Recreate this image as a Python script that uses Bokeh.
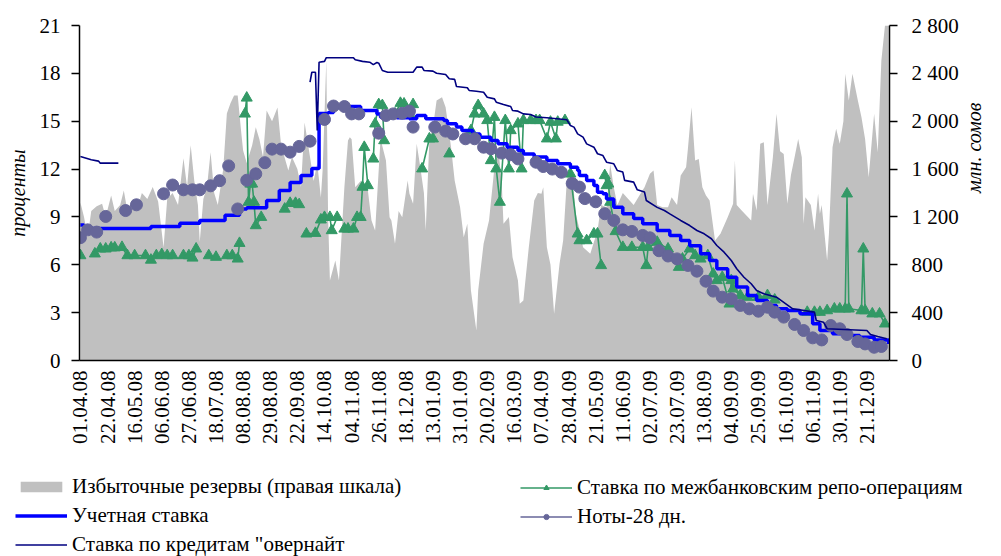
import math
from bokeh.plotting import figure
from bokeh.layouts import column
from bokeh.models import Range1d, LinearAxis, FixedTicker, Legend, LegendItem
from bokeh.embed import file_html
from bokeh.resources import INLINE

nan = float("nan")

# ---- category axis: business days, a label every 15 days ----
date_labels = ["01.04.08", "22.04.08", "16.05.08", "06.06.08", "27.06.08", "18.07.08",
               "08.08.08", "29.08.08", "22.09.08", "14.10.08", "04.11.08", "26.11.08",
               "18.12.08", "13.01.09", "31.01.09", "20.02.09", "16.03.09", "07.04.09",
               "28.04.09", "21.05.09", "11.06.09", "02.07.09", "23.07.09", "13.08.09",
               "04.09.09", "25.09.09", "16.10.09", "06.11.09", "30.11.09", "21.12.09"]
n_days = 448
label_step = 15

# ---- excess reserves (right axis, mln som) ----
reserves_day = [0, 2, 4, 6, 9, 12, 14, 17, 19, 22, 24, 26, 29, 32, 34, 37, 40, 43, 46, 48,
                51, 54, 57, 59, 61, 63, 65, 66, 68, 70, 72, 74, 76, 79, 81, 83, 85, 87, 89, 90,
                92, 95, 97, 99, 101, 103, 106, 109, 111, 115, 117, 120, 122, 124, 127, 129, 131, 133, 134, 136,
                137, 138, 141, 143, 146, 148, 149, 150, 152, 155, 159, 161, 163, 166, 169, 171, 172, 174, 176, 178,
                181, 182, 184, 186, 188, 190, 191, 193, 195, 197, 200, 202, 205, 207, 210, 212, 214, 216, 219, 220,
                223, 226, 229, 231, 233, 234, 237, 239, 242, 243, 245, 248, 251, 253, 255, 256, 258, 260, 262, 265,
                267, 269, 271, 273, 274, 276, 278, 282, 286, 288, 291, 293, 295, 297, 300, 303, 306, 310, 312, 315,
                317, 319, 322, 325, 327, 330, 332, 335, 336, 338, 340, 342, 344, 346, 348, 351, 354, 358, 361, 362,
                363, 366, 371, 372, 374, 376, 378, 380, 383, 385, 387, 389, 391, 393, 395, 397, 399, 400, 401, 404,
                406, 408, 409, 410, 413, 414, 416, 418, 420, 422, 423, 425, 427, 430, 432, 434, 436, 439, 441, 443,
                445, 447]
reserves_val = [1320, 1200, 1030, 1250, 1290, 1310, 1200, 1380, 1250, 1300, 1420, 1250, 1350, 1300, 1400, 1350, 1450, 1330, 944, 1350,
                1400, 1300, 1690, 1450, 1800, 1500, 1300, 990, 1350, 1450, 1740, 1400, 1300, 1600, 2064, 2150, 2214, 2214, 1900, 1755,
                1650, 1800, 1950, 1850, 1700, 2090, 2000, 2115, 1800, 1588, 1700, 1600, 1450, 1990, 1700, 1500, 1650, 1363, 1600, 2507,
                1200, 669, 836, 669, 1448, 1839, 1866, 1850, 1448, 1500, 1421, 1170, 1086, 1852, 1671, 1198, 1170, 975, 1250, 1198,
                1504, 1393, 1310, 1811, 1616, 1400, 1086, 1839, 1950, 2173, 2201, 2117, 1783, 1504, 1281, 1031, 1142, 585, 251, 585,
                975, 1170, 1616, 1783, 1500, 1142, 1200, 863, 669, 474, 501, 947, 1337, 1400, 1393, 1448, 947, 800, 390, 808,
                1003, 1500, 1671, 1400, 1226, 1100, 947, 892, 1086, 1300, 1281, 1643, 1448, 1300, 1400, 1350, 1300, 1400, 1448, 1560,
                1588, 1300, 1280, 1281, 1365, 1300, 1546, 1616, 1769, 2117, 1671, 1685, 1448, 1380, 1337, 1003, 1059, 1198, 1310, 1671,
                1300, 1250, 1170, 1393, 1254, 1811, 1825, 1300, 1699, 2062, 1750, 1727, 1310, 1550, 1699, 1852, 1699, 1142, 1365, 1300,
                1086, 1393, 1226, 1300, 836, 1059, 1783, 1936, 1811, 2000, 2396, 2173, 2396, 2173, 2034, 1852, 1532, 2062, 1741, 2507,
                2800, 2800]

# ---- interbank repo rate, % (nan = no trades) ----
repo_day = [0, nan, 8, 11, 14, 17, 19, 23, 26, 30, 36, 39, 42, 45, 48, 51, nan, 57, 60, 62, 64, nan,
            71, 75, nan, 81, 84, 87, 88, nan, 91, 92, 93, 94, 95, 96, 97, 100, nan,
            113, 116, 119, 121, nan, 125, 130, 133, 135, 138, 139, 142, nan,
            146, 148, 151, 153, 155, 156, 157, 159, nan, 162, 163, 165, 167, 168, nan,
            174, 177, 179, 182, 184, nan, 189, 193, 195, nan, 204, nan,
            216, 218, 220, 223, 225, 227, 229, 230, 232, 235, 237, 238, 242, 244, 245, 249, 252, 254,
            258, 260, 263, 264, 268, nan, 271, 275, 276, 280, 284, 286, 288, nan,
            290, 291, 292, 293, 296, 300, 305, 311, 313, 314, 319, 325, 331, 333, 337, 340, 343, 347,
            350, 352, 355, 359, 360, 361, 365, 369, 375, 380, 384, nan,
            402, 406, 409, 413, 417, 420, 423, 424, 425, 432, 433, 434, 438, 442, 445]
repo_val = [6.58, nan, 6.69, 7.0, 7.0, 7.07, 7.07, 7.1, 6.58, 6.58, 6.58, 6.3, 6.58, 6.65, 6.58, 6.58, nan, 6.58, 6.58, 6.43, 7.0, nan,
            6.58, 6.48, nan, 6.58, 6.58, 6.37, 7.35, nan, 15.46, 16.46, 9.93, 11.07, 11.07, 9.93, 8.46, 8.98, nan,
            9.5, 9.86, 9.86, 9.78, nan, 7.94, 7.98, 8.82, 8.98, 8.98, 8.15, 8.98, nan,
            8.25, 8.25, 8.25, 8.98, 8.98, 10.87, 13.37, 10.97, nan, 12.64, 14.84, 16.05, 15.99, 13.79, nan,
            15.46, 16.13, 16.09, 15.46, 16.05, nan, 12.02, 13.9, 13.9, nan, 12.96, nan,
            14.42, 15.46, 15.99, 15.46, 15.05, 12.54, 15.25, 12.02, 9.93, 15.05, 12.02, 14.42, 14.84, 12.02, 15.05, 15.05, 15.05, 15.05,
            13.9, 14.95, 13.9, 14.95, 15.05, nan, 11.7, 7.94, 7.52, 7.52, 7.94, 7.94, 5.96, nan,
            11.6, 10.97, 11.07, 9.93, 8.09, 7.1, 7.1, 7.1, 5.96, 7.1, 7.42, 7.0, 5.85, 6.37, 7.0, 6.58, 6.37, 6.58,
            5.43, 5.02, 5.22, 3.55, 5.02, 4.49, 4.08, 3.97, 3.97, 4.08, 3.8, nan,
            3.03, 3.03, 3.03, 3.13, 3.24, 3.24, 3.24, 10.45, 3.24, 3.13, 7.0, 3.13, 2.93, 2.93, 2.3]

# ---- discount rate, % ----
discount_day = [0, 2, 30, 39, 55, 66, 80, 88, 92, 98, 103, 110, 116, 122, 128, 131, 132, 137, 140, 149,
                155, 164, 166, 175, 182, 186, 189, 191, 201, 203, 208, 211, 217, 221, 227, 231, 236, 242, 245, 251,
                258, 264, 271, 275, 276, 280, 284, 286, 289, 291, 295, 300, 306, 311, 319, 326, 332, 337, 343, 348,
                352, 358, 363, 369, 374, 380, 385, 391, 398, 405, 409, 416, 424, 431, 439, 447]
discount_val = [8.5, 8.27, 8.27, 8.4, 8.6, 8.78, 9.1, 9.5, 9.57, 9.57, 10.03, 10.66, 11.16, 11.6, 12.04, 12.04, 15.49, 15.55, 15.86, 15.92,
                15.67, 15.46, 15.25, 15.22, 15.15, 15.36, 15.36, 15.15, 15.05, 14.84, 14.63, 14.42, 14.2, 14.0, 13.79, 13.58, 13.37, 13.17, 12.95, 12.75,
                12.54, 12.33, 12.12, 11.91, 11.6, 11.29, 10.97, 10.55, 10.45, 10.13, 9.6, 9.2, 8.9, 8.58, 8.15, 7.84, 7.52, 7.2, 6.69, 6.27,
                5.75, 5.22, 4.6, 4.08, 3.76, 3.45, 3.24, 3.13, 2.93, 2.3, 1.88, 1.67, 1.57, 1.46, 1.29, 1.04]

# ---- 28-day notes yield, % ----
notes_day = [0, 4, 9, 14, 25, 31, 46, 51, 57, 62, 66, 72, 77, 82, 87, 92, 97, 102, 106, 111,
             116, 121, 127, 135, 140, 146, 150, 154, 165, 169, 173, 178, 182, 184, 196, 202, 206, 213, 218, 223,
             227, 233, 238, 242, 252, 256, 261, 266, 272, 276, 279, 285, 290, 295, 300, 305, 311, 315, 320, 325,
             330, 336, 341, 346, 350, 355, 360, 365, 370, 375, 380, 384, 389, 395, 400, 405, 410, 415, 420, 424,
             430, 434, 439, 443]
notes_val = [7.7, 8.19, 8.05, 9.03, 9.4, 9.76, 10.45, 11.0, 10.7, 10.7, 10.7, 10.95, 11.27, 12.2, 9.5, 11.3, 11.7, 12.4, 13.25, 13.25,
             13.06, 13.42, 13.75, 15.11, 15.95, 15.92, 15.46, 15.46, 14.25, 15.36, 15.46, 15.5, 15.63, 14.63, 14.63, 14.38, 14.2, 13.9, 13.9, 13.37,
             13.27, 13.0, 12.9, 12.64, 12.43, 12.16, 12.0, 11.8, 11.1, 10.87, 10.15, 9.95, 9.2, 8.78, 8.19, 8.09, 7.84, 7.69, 6.88, 6.55,
             6.37, 5.96, 5.6, 4.97, 4.35, 3.97, 3.87, 3.45, 3.24, 3.09, 3.34, 3.03, 2.72, 2.26, 1.88, 1.42, 1.29, 2.19, 1.99, 1.63,
             1.19, 1.04, 0.83, 0.88]

# ---- overnight credit rate, % ----
overnight_day = [0, 6, 10, 11, 21, nan,
                 127, 128, 130, 131, 132, 135, 136, 151, 152, 156, 160, 162, 164, 165, 167, 170, 184, 186, 189, 190,
                 195, 197, 202, 204, 207, 208, 214, 215, 219, 223, 225, 229, 230, 234, 238, 239, 242, 245, 249, 252,
                 258, 269, 271, 273, 275, 278, 280, 284, 286, 289, 291, 295, 297, 300, 301, 306, 308, 312, 313, 319,
                 323, 326, 332, 337, 341, 345, 349, 352, 356, 360, 363, 367, 371, 374, 378, 385, 394, 406, 407, 411,
                 413, 435, 437, 441, 446]
overnight_val = [12.79, 12.58, 12.5, 12.37, 12.37, nan,
                 17.45, 18.07, 18.07, 14.42, 18.7, 18.75, 18.98, 18.98, 18.85, 18.75, 18.7, 18.55, 18.68, 18.64, 18.18, 18.07, 18.07, 18.39, 18.39, 18.18,
                 18.14, 18.01, 17.93, 17.66, 17.62, 17.18, 17.1, 16.93, 16.88, 16.82, 16.5, 16.4, 16.19, 16.05, 15.92, 15.67, 15.63, 15.46, 15.42, 15.26,
                 15.22, 15.09, 14.73, 14.63, 14.21, 14.0, 13.58, 13.37, 12.96, 12.85, 12.43, 12.33, 11.91, 11.81, 11.29, 11.18, 10.7, 10.56, 10.03, 9.6,
                 9.4, 9.19, 8.78, 8.46, 8.15, 7.94, 7.63, 7.21, 6.79, 6.27, 5.75, 5.22, 4.81, 4.39, 4.18, 3.97, 3.24, 3.03, 2.51, 2.4,
                 1.99, 1.88, 1.63, 1.5, 1.36]

left_ticks = [0, 3, 6, 9, 12, 15, 18, 21]
right_ticks = [0, 400, 800, 1200, 1600, 2000, 2400, 2800]

series_names = ["Избыточные резервы (правая шкала)", "Учетная ставка",
                "Ставка по кредитам \"овернайт",
                "Ставка по межбанковским репо-операциям", "Ноты-28 дн."]

FONT = "Liberation Serif"
FS = "21px"
C_RES, C_REPO, C_DISC, C_NOTES, C_OVER = "#C0C0C0", "#339966", "#0000FF", "#666699", "#000080"

W = 1000
p = figure(width=W, height=465, output_backend="svg", toolbar_location=None,
           x_range=Range1d(-0.5, n_days - 0.5), y_range=Range1d(0, 21),
           min_border_left=79, min_border_right=W - 889, min_border_top=25, min_border_bottom=105)
p.extra_y_ranges = {"right": Range1d(0, 2800)}
p.outline_line_color = None
p.xgrid.visible = False
p.ygrid.visible = False

p.varea(x=reserves_day, y1=[0] * len(reserves_day), y2=reserves_val,
        fill_color=C_RES, y_range_name="right")
p.line(repo_day, repo_val, line_color=C_REPO, line_width=1.6)
p.scatter([d for d in repo_day if d == d], [v for v in repo_val if v == v],
          marker="triangle", size=11, fill_color=C_REPO, line_color=C_REPO)
p.step(discount_day, discount_val, mode="after", line_color=C_DISC, line_width=3.5)
p.scatter(notes_day, notes_val, marker="circle", size=12, fill_color=C_NOTES, line_color=C_NOTES)
p.line(overnight_day, overnight_val, line_color=C_OVER, line_width=1.6)

xa = p.xaxis[0]
xa.ticker = FixedTicker(ticks=[i * label_step for i in range(len(date_labels))])
xa.major_label_overrides = {i * label_step: lbl for i, lbl in enumerate(date_labels)}
xa.major_label_orientation = math.pi / 2
xa.major_tick_out = 0
xa.major_tick_in = 0
xa.minor_tick_out = 0
xa.minor_tick_in = 0
xa.major_label_standoff = 10

ya = p.yaxis[0]
ya.ticker = FixedTicker(ticks=left_ticks)
ya.major_tick_out = 8
ya.major_tick_in = 0
ya.minor_tick_out = 0
ya.minor_tick_in = 0
ya.major_label_standoff = 11
ya.axis_label = "проценты"
ya.axis_label_standoff = 8

ra = LinearAxis(y_range_name="right", ticker=FixedTicker(ticks=right_ticks))
ra.major_label_overrides = {t: (f"{t:,}".replace(",", " ")) for t in right_ticks}
ra.major_tick_out = 8
ra.major_tick_in = 0
ra.minor_tick_out = 0
ra.minor_tick_in = 0
ra.major_label_standoff = 14
ra.axis_label = "млн. сомов"
ra.axis_label_standoff = 12
try:
    ra.axis_label_orientation = math.pi / 2
except Exception:
    pass
p.add_layout(ra, "right")

for ax in (xa, ya, ra):
    ax.axis_line_color = "black"
    ax.axis_line_width = 1.5
    ax.major_tick_line_color = "black"
    ax.major_tick_line_width = 1.5
    ax.major_label_text_font = FONT
    ax.major_label_text_font_size = FS
    ax.major_label_text_color = "black"
    ax.axis_label_text_font = FONT
    ax.axis_label_text_font_size = "20px"
    ax.axis_label_text_font_style = "italic"
    ax.axis_label_text_color = "black"

# ---- legend panel (separate figure below the chart) ----
LH = 91
lf = figure(width=W, height=LH, output_backend="svg", toolbar_location=None,
            x_range=Range1d(0, 1), y_range=Range1d(0, 1), min_border=0,
            x_axis_location=None, y_axis_location=None)
try:
    lf.frame_align = False
except Exception:
    pass
lf.grid.visible = False
lf.outline_line_color = None

# legend proxies: placed outside the visible range
px, py = [-5, -4], [-5, -5]
g_res = lf.varea(x=px, y1=py, y2=[-4, -4], fill_color=C_RES)
g_disc = lf.line(x=px, y=py, line_color=C_DISC, line_width=3.5)
g_over = lf.line(x=px, y=py, line_color=C_OVER, line_width=1.6)
g_repo_l = lf.line(x=px, y=py, line_color=C_REPO, line_width=1.6)
g_repo_m = lf.scatter(x=px, y=py, marker="triangle", size=7, fill_color=C_REPO, line_color=C_REPO)
g_notes_l = lf.line(x=px, y=py, line_color=C_NOTES, line_width=1.6)
g_notes_m = lf.scatter(x=px, y=py, marker="circle", size=7, fill_color=C_NOTES, line_color=C_NOTES)


def make_legend(items, loc):
    return Legend(items=items, location=loc, orientation="vertical",
                  glyph_width=52, glyph_height=13, label_height=20, label_standoff=5,
                  spacing=4, padding=0, margin=0, border_line_color=None,
                  background_fill_alpha=0,
                  label_text_font=FONT, label_text_font_size=FS, label_text_color="black")


leg1 = make_legend([
    LegendItem(label=series_names[0], renderers=[g_res]),
    LegendItem(label=series_names[1], renderers=[g_disc]),
    LegendItem(label=series_names[2], renderers=[g_over]),
], (15, -1))
leg2 = make_legend([
    LegendItem(label=series_names[3], renderers=[g_repo_l, g_repo_m]),
    LegendItem(label=series_names[4], renderers=[g_notes_l, g_notes_m]),
], (520, 27))
lf.add_layout(leg1, "center")
lf.add_layout(leg2, "center")

layout = column(p, lf, spacing=0)
open("out.html", "w").write(file_html(layout, INLINE))
